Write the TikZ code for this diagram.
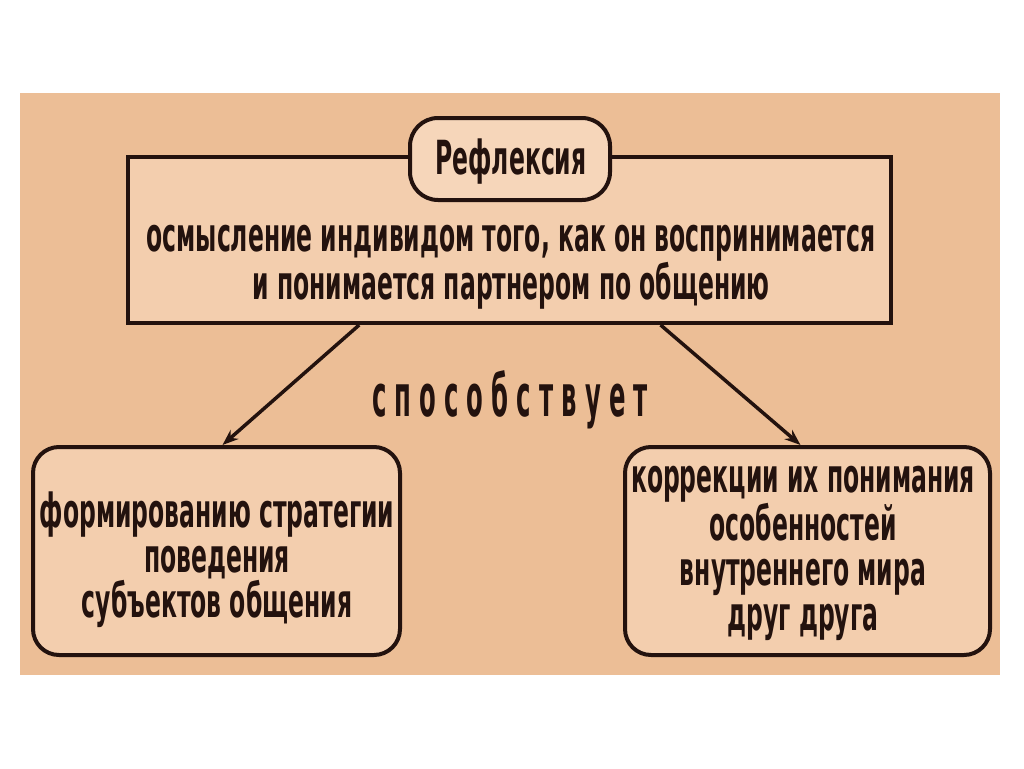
\documentclass[tikz,border=0pt]{standalone}
\usepackage{fontspec}
\usetikzlibrary{arrows.meta,calc}
\newfontfamily\cond{DejaVu Sans Bold}[FakeStretch=0.5]
\newfontfamily\condsp{DejaVu Sans Bold}[FakeStretch=0.42,LetterSpace=14]
\definecolor{bgpeach}{RGB}{236,190,150}
\definecolor{boxfill}{RGB}{243,206,174}
\definecolor{pillfill}{RGB}{246,214,186}
\definecolor{ink}{RGB}{35,18,14}
\begin{document}
\begin{tikzpicture}[x=1pt,y=-1pt,
  frame/.style={draw=ink,line width=4pt,fill=boxfill,inner sep=0pt},
  txt/.style={text=ink,align=center,inner sep=0pt,font=\cond\fontsize{47}{45}\selectfont},
  conn/.style={draw=ink,line width=3.5pt,-{Stealth[length=16pt,width=12pt]}}]
\fill[white] (0,0) rectangle (1024,768);
\useasboundingbox (0,0) rectangle (1024,768);
\fill[bgpeach] (20,93) rectangle (1000,675);
% main box
\node[frame,minimum width=763pt,minimum height=166pt] (main) at (509.5,240) {};
\node[frame,rounded corners=28pt,minimum width=200pt,minimum height=82pt,fill=pillfill] (title) at (510,159) {};
\node[txt] (titletext) at (511,162) {Рефлексия};
\node[txt] (maintext) at (511,267) {осмысление индивидом того, как он воспринимается\\и понимается партнером по общению};
% lower boxes
\node[frame,rounded corners=26pt,minimum width=367pt,minimum height=208pt] (left) at (216.5,551) {};
\node[frame,rounded corners=26pt,minimum width=365pt,minimum height=208pt] (right) at (807.5,551) {};
\node[txt] (lefttext) at (217,560) {формированию стратегии\\поведения\\субъектов общения};
\node[txt] (righttext) at (803,553) {коррекции их понимания\\особенностей\\внутреннего мира\\друг друга};
% label
\node[text=ink,inner sep=0pt,font=\condsp\fontsize{58}{60}\selectfont] (label) at (510,400) {способствует};
% connectors
\draw[conn] ($(main.south west)!0.304!(main.south east)$) -- ($(left.north)+(6,0)$);
\draw[conn] ($(main.south west)!0.697!(main.south east)$) -- ($(right.north)+(-7,0)$);
\end{tikzpicture}
\end{document}
